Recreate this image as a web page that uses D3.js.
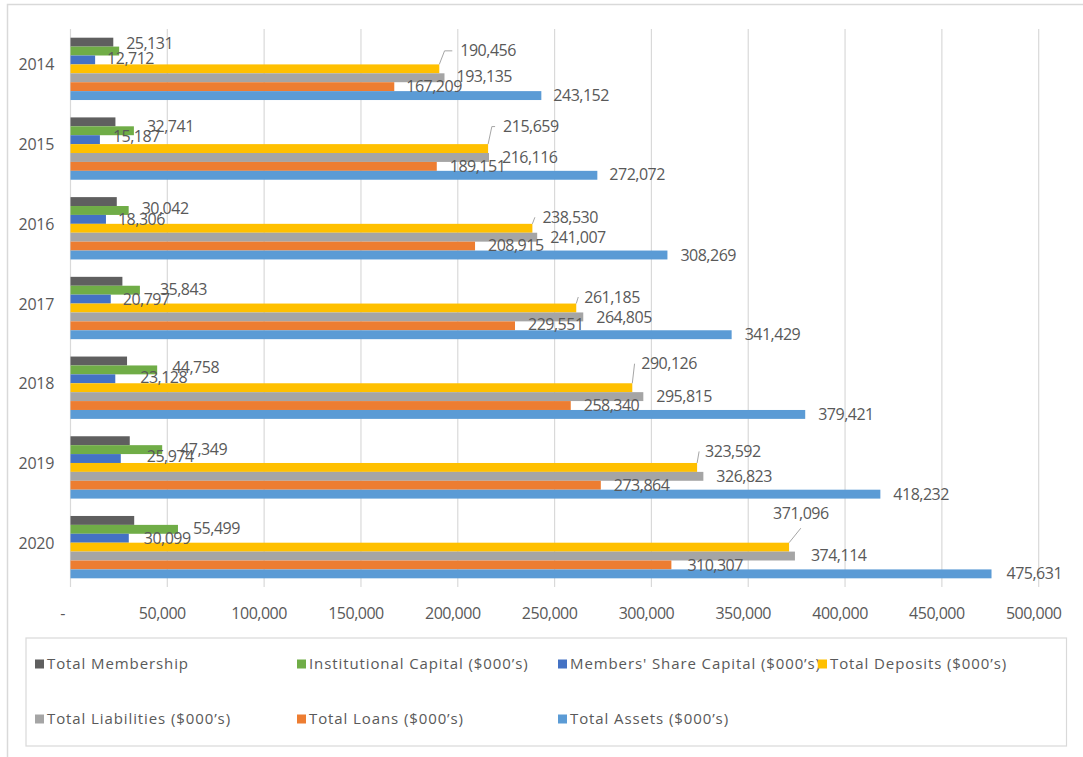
<!DOCTYPE html>
<html><head><meta charset="utf-8">
<script src="https://cdn.jsdelivr.net/npm/d3@7/dist/d3.min.js"></script>
<style>body{margin:0;background:#fff;overflow:hidden}</style>
</head><body><svg id="c" width="1083" height="757"></svg>
<script>
// ---------- data ----------
const years = ["2014","2015","2016","2017","2018","2019","2020"];
const seriesNames = ["Total Membership","Institutional Capital ($000\u2019s)","Members' Share Capital ($000\u2019s)","Total Deposits ($000\u2019s)","Total Liabilities ($000\u2019s)","Total Loans ($000\u2019s)","Total Assets ($000\u2019s)"];
const totalMembership   = [22100, 23200, 23900, 26800, 29200, 30600, 32900];
const institutionalCap  = [25131, 32741, 30042, 35843, 44758, 47349, 55499];
const membersShareCap   = [12712, 15187, 18306, 20797, 23128, 25974, 30099];
const totalDeposits     = [190456, 215659, 238530, 261185, 290126, 323592, 371096];
const totalLiabilities  = [193135, 216116, 241007, 264805, 295815, 326823, 374114];
const totalLoans        = [167209, 189151, 208915, 229551, 258340, 273864, 310307];
const totalAssets       = [243152, 272072, 308269, 341429, 379421, 418232, 475631];
const tickValues = [0, 50000, 100000, 150000, 200000, 250000, 300000, 350000, 400000, 450000, 500000];
const tickLabels = ["-", "50,000", "100,000", "150,000", "200,000", "250,000", "300,000", "350,000", "400,000", "450,000", "500,000"];

// ---------- styles ----------
const colors = ["#5f5f5f","#70ad47","#4472c4","#ffc000","#a5a5a5","#ed7d31","#5b9bd5"];
const showLabel = [false,true,true,true,true,true,true];
// label nudges [dx from bar end, dy from bar centre] per series, per year
const nudgeDx = [
  [0,0,0,0,0,0,0],
  [7,13,13,20,15,18,15],
  [12,13,12,12,25,26,15],
  [21,15,10,8,9,8,-16],
  [12,13,13,13,13,13,16],
  [12,13,13,13,13,13,16],
  [12,12,13,13,13,13,15]
];
const nudgeDy = [
  [0,0,0,0,0,0,0],
  [-8,-4,-2,-1,-3,0,-1],
  [-2,-3,0,0,-1,-2,0],
  [-18,-22,-11,-11,-24,-16,-34],
  [-1,0,0,0,0,0,-1],
  [0,0,-1,-1,0,0,0],
  [0,-1,0,0,0,0,0]
];
const leader = [false,false,false,true,false,false,false];

const seriesValues = [totalMembership, institutionalCap, membersShareCap, totalDeposits, totalLiabilities, totalLoans, totalAssets];

const svg = d3.select("#c");
const textColor = "#595959";
const font = "'Open Sans', sans-serif";

// outer frame
svg.append("path").attr("d","M7.5,757 V4.5 H1083").attr("fill","none").attr("stroke","#d9d9d9").attr("stroke-width",1.5);

const x = d3.scaleLinear().domain([0,500000]).range([70.5,1038.7]);
const y = d3.scaleBand().domain(years).range([29,587]).paddingInner(0.218).paddingOuter(0.109);
const yi = d3.scaleBand().domain(d3.range(seriesNames.length)).range([0,y.bandwidth()]).padding(0);

// gridlines
svg.append("g").selectAll("line").data(tickValues).join("line")
  .attr("x1",d=>x(d)).attr("x2",d=>x(d)).attr("y1",29).attr("y2",587)
  .attr("stroke","#d9d9d9").attr("stroke-width",1.2);

// x tick labels
svg.append("g").selectAll("text").data(tickValues).join("text")
  .attr("x",(d,i)=>x(d)-(i===0?8:5)).attr("y",613).attr("dy","0.35em")
  .attr("text-anchor","middle").attr("fill",textColor)
  .style("font-family",font).style("font-size","16px").style("letter-spacing","-0.5px")
  .text((d,i)=>tickLabels[i]);

// y labels
svg.append("g").selectAll("text").data(years).join("text")
  .attr("x",54).attr("y",d=>y(d)+y.bandwidth()/2+y.step()*0-4).attr("dy","0.35em")
  .attr("text-anchor","end").attr("fill",textColor)
  .style("font-family",font).style("font-size","16px").style("letter-spacing","-0.3px")
  .text(d=>d);

// bars
const flat = [];
seriesValues.forEach((vals,s)=>vals.forEach((v,i)=>flat.push({s,i,v,year:years[i]})));
svg.append("g").selectAll("rect").data(flat).join("rect")
  .attr("x",x(0)).attr("y",d=>y(d.year)+yi(d.s))
  .attr("width",d=>x(d.v)-x(0)).attr("height",yi.bandwidth())
  .attr("fill",d=>colors[d.s]);

// labels + leaders
const fmt = d3.format(",");
const lab = flat.filter(d=>showLabel[d.s]);
const lg = svg.append("g");
lab.forEach(d=>{
  const xEnd = x(d.v);
  const yc = y(d.year)+yi(d.s)+yi.bandwidth()/2;
  const lx = xEnd + nudgeDx[d.s][d.i];
  const ly = yc + nudgeDy[d.s][d.i];
  const t = lg.append("text").attr("x",lx).attr("y",ly).attr("dy","0.35em")
    .attr("fill",textColor).style("font-family",font).style("font-size","16px").style("letter-spacing","-0.5px")
    .text(fmt(d.v));
  if (leader[d.s]) {
    const barTop = y(d.year)+yi(d.s);
    let p;
    if (lx - xEnd > 4) {
      const ex = lx - Math.min(16,(lx-xEnd)*0.75);
      const hx = Math.max(ex, lx-8);
      p = `M${xEnd},${barTop} L${ex},${ly} H${hx}`;
    } else {
      const w = t.node().getComputedTextLength();
      p = `M${xEnd},${barTop} L${lx+w/2},${ly+15}`;
    }
    lg.append("path").attr("d",p).attr("fill","none").attr("stroke","#a6a6a6").attr("stroke-width",1);
  }
});

// legend
svg.append("rect").attr("x",26).attr("y",638).attr("width",1040.5).attr("height",108)
  .attr("fill","#fff").attr("stroke","#d9d9d9").attr("stroke-width",1.2);
const legCols = [35,297,558,818];
const legRows = [664,719];
seriesNames.forEach((n,k)=>{
  const lx = legCols[k%4], ly = legRows[Math.floor(k/4)];
  svg.append("rect").attr("x",lx).attr("y",ly-4.5).attr("width",9).attr("height",9).attr("fill",colors[k]);
  svg.append("text").attr("x",lx+12).attr("y",ly).attr("dy","0.35em").attr("fill",textColor)
    .style("font-family",font).style("font-size","15px").style("letter-spacing","0.9px").text(n);
});
</script></body></html>
